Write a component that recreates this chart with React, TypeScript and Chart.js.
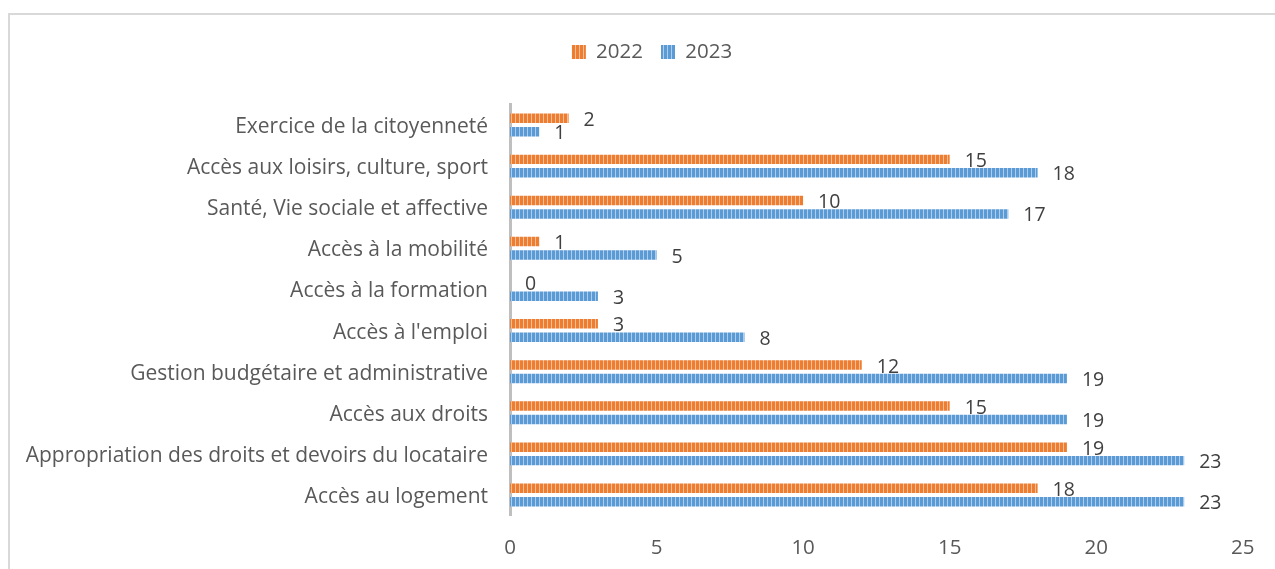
import React, { useEffect, useRef } from "react";
import { Chart, registerables } from "chart.js";

Chart.register(...registerables);

const categories: string[] = [
  "Exercice de la citoyenneté",
  "Accès aux loisirs, culture, sport",
  "Santé, Vie sociale et affective",
  "Accès à la mobilité",
  "Accès à la formation",
  "Accès à l'emploi",
  "Gestion budgétaire et administrative",
  "Accès aux droits",
  "Appropriation des droits et devoirs du locataire",
  "Accès au logement",
];

const values2022: number[] = [2, 15, 10, 1, 0, 3, 12, 15, 19, 18];
const values2023: number[] = [1, 18, 17, 5, 3, 8, 19, 19, 23, 23];

const seriesLabels: string[] = ["2022", "2023"];
const xTicks: number[] = [0, 5, 10, 15, 20, 25];

const FONT = "'Open Sans', 'DejaVu Sans', sans-serif";

function makePattern(base: string, light: string): CanvasPattern | string {
  const c = document.createElement("canvas");
  c.width = 4;
  c.height = 4;
  const g = c.getContext("2d");
  if (!g) return base;
  g.fillStyle = base;
  g.fillRect(0, 0, 4, 4);
  g.fillStyle = light;
  g.fillRect(3, 0, 1, 4);
  const p = g.createPattern(c, "repeat");
  return p || base;
}

const dataLabelPlugin = {
  id: "dataLabels",
  afterDatasetsDraw(chart: any) {
    const ctx = chart.ctx;
    ctx.save();
    ctx.font = `19.5px ${FONT}`;
    ctx.fillStyle = "#404040";
    ctx.textAlign = "left";
    ctx.textBaseline = "middle";
    chart.data.datasets.forEach((ds: any, di: number) => {
      const meta = chart.getDatasetMeta(di);
      meta.data.forEach((el: any, i: number) => {
        const v = ds.data[i];
        ctx.fillText(String(v), el.x + 15, el.y + 2);
      });
    });
    ctx.restore();
  },
};

const legendSpacePlugin = {
  id: "legendSpace",
  beforeInit(chart: any) {
    if (!chart.legend) return;
    const origFit = chart.legend.fit;
    chart.legend.fit = function fit() {
      origFit.bind(chart.legend)();
      this.height += 32.15;
    };
  },
  afterLayout(chart: any) {
    if (!chart.legend) return;
    chart.legend.left += 30;
    chart.legend.right += 30;
  },
};

export default function App() {
  const ref = useRef<HTMLCanvasElement | null>(null);

  useEffect(() => {
    if (!ref.current) return;
    const orange = makePattern("#ED7D31", "#F7BE96");
    const blue = makePattern("#5B9BD5", "#ADCDEB");
    const chart = new Chart(ref.current, {
      type: "bar",
      data: {
        labels: categories,
        datasets: [
          {
            label: seriesLabels[0],
            data: values2022,
            backgroundColor: orange as any,
            borderWidth: 0,
            categoryPercentage: 0.655,
            barPercentage: 0.7,
          },
          {
            label: seriesLabels[1],
            data: values2023,
            backgroundColor: blue as any,
            borderWidth: 0,
            categoryPercentage: 0.655,
            barPercentage: 0.7,
          },
        ],
      },
      options: {
        indexAxis: "y",
        responsive: false,
        animation: false,
        layout: { padding: { left: 0, right: 31, top: 23.75, bottom: 0 } },
        plugins: {
          legend: {
            position: "top",
            labels: {
              boxWidth: 14,
              boxHeight: 14,
              padding: 18,
              color: "#595959",
              font: { family: FONT, size: 20.5 },
            },
          },
          tooltip: { enabled: false },
        },
        scales: {
          x: {
            min: 0,
            max: 25,
            afterBuildTicks: (scale: any) => {
              scale.ticks = xTicks.map((v) => ({ value: v }));
            },
            grid: { display: false, drawTicks: false },
            border: { display: false },
            ticks: {
              padding: 20.5,
              color: "#595959",
              font: { family: FONT, size: 20.5 },
            },
            afterFit: (scale: any) => {
              scale.height = 569 - 515.6;
            },
          },
          y: {
            grid: { display: false, drawTicks: false },
            border: { display: true, color: "#BFBFBF", width: 3 },
            ticks: {
              padding: 22,
              labelOffset: 2,
              color: "#595959",
              font: { family: FONT, size: 21 },
            },
            afterFit: (scale: any) => {
              scale.width = 510;
            },
          },
        },
      },
      plugins: [dataLabelPlugin, legendSpacePlugin],
    });
    return () => chart.destroy();
  }, []);

  return (
    <div style={{ position: "fixed", left: 0, top: 0, width: 1275, height: 569, overflow: "hidden", background: "#fff" }}>
      <div
        style={{
          position: "absolute",
          left: 8,
          top: 13,
          width: 1400,
          height: 700,
          borderTop: "2px solid #D9D9D9",
          borderLeft: "2px solid #D9D9D9",
        }}
      />
      <canvas
        ref={ref}
        width={1275}
        height={569}
        style={{ position: "absolute", left: 0, top: 0, width: 1275, height: 569 }}
      />
    </div>
  );
}
